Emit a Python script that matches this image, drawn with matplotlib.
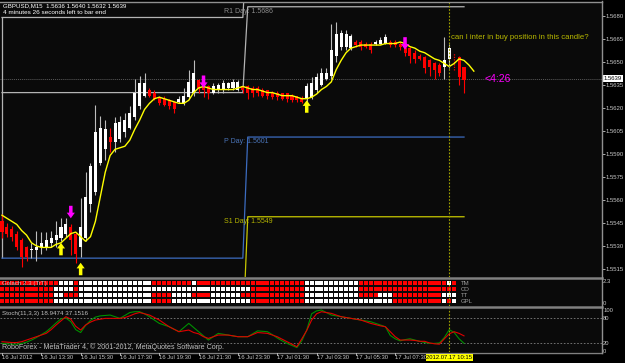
import matplotlib
matplotlib.use('Agg')
import matplotlib.pyplot as plt
import matplotlib.transforms as mtransforms
from matplotlib.lines import Line2D
import numpy as np

# ---------------- data ----------------
opens = [1.5546, 1.5542, 1.5541, 1.5538, 1.5534, 1.5529, 1.5527, 1.5527, 1.5529, 1.5529,
         1.5532, 1.5534, 1.5535, 1.5538, 1.5542, 1.5538, 1.5529, 1.5535, 1.5557, 1.5565,
         1.5584, 1.5593, 1.5601, 1.5598, 1.5600, 1.5604, 1.5607, 1.5614, 1.5621, 1.5628,
         1.5632, 1.5630, 1.5627, 1.5626, 1.5625, 1.5624, 1.5624, 1.5623, 1.5627, 1.5630,
         1.5638, 1.5636, 1.5634, 1.5630, 1.5632, 1.5632, 1.5633, 1.5633, 1.5632, 1.5634,
         1.5634, 1.5633, 1.5633, 1.5632, 1.5632, 1.5630, 1.5630, 1.5630, 1.5630, 1.5628,
         1.5628, 1.5626, 1.5626, 1.5627, 1.5632, 1.5635, 1.5639, 1.5641, 1.5654, 1.5660,
         1.5660, 1.5659, 1.5663, 1.5663, 1.5662, 1.5662, 1.5662, 1.5662, 1.5662, 1.5663,
         1.5663, 1.5662, 1.5659, 1.5659, 1.5656, 1.5654, 1.5653, 1.5651, 1.5649, 1.5648,
         1.5647, 1.5652, 1.5656, 1.5653, 1.5647]
highs = [1.5551, 1.5545, 1.5543, 1.5540, 1.5535, 1.5530, 1.5532, 1.5540, 1.5539, 1.5539,
         1.5540, 1.5546, 1.5548, 1.5548, 1.5544, 1.5539, 1.5561, 1.5578, 1.5584, 1.5622,
         1.5615, 1.5612, 1.5607, 1.5614, 1.5615, 1.5617, 1.5621, 1.5639, 1.5641, 1.5643,
         1.5633, 1.5632, 1.5628, 1.5628, 1.5626, 1.5624, 1.5628, 1.5633, 1.5645, 1.5651,
         1.5639, 1.5638, 1.5635, 1.5636, 1.5636, 1.5638, 1.5637, 1.5639, 1.5638, 1.5634,
         1.5635, 1.5634, 1.5634, 1.5633, 1.5632, 1.5631, 1.5631, 1.5630, 1.5630, 1.5629,
         1.5628, 1.5628, 1.5636, 1.5640, 1.5643, 1.5646, 1.5646, 1.5675, 1.5676, 1.5671,
         1.5671, 1.5668, 1.5664, 1.5664, 1.5663, 1.5663, 1.5664, 1.5666, 1.5668, 1.5664,
         1.5664, 1.5663, 1.5660, 1.5660, 1.5658, 1.5655, 1.5654, 1.5652, 1.5650, 1.5649,
         1.5666, 1.5662, 1.5656, 1.5654, 1.5647]
lows = [1.5535, 1.5536, 1.5533, 1.5527, 1.5516, 1.5520, 1.5522, 1.5520, 1.5525, 1.5527,
        1.5529, 1.5529, 1.5533, 1.5536, 1.5524, 1.5519, 1.5523, 1.5533, 1.5552, 1.5563,
        1.5583, 1.5586, 1.5591, 1.5591, 1.5598, 1.5601, 1.5606, 1.5612, 1.5619, 1.5627,
        1.5627, 1.5625, 1.5622, 1.5621, 1.5619, 1.5617, 1.5623, 1.5622, 1.5626, 1.5628,
        1.5630, 1.5627, 1.5626, 1.5629, 1.5630, 1.5630, 1.5632, 1.5632, 1.5631, 1.5630,
        1.5626, 1.5627, 1.5628, 1.5627, 1.5626, 1.5626, 1.5625, 1.5625, 1.5624, 1.5624,
        1.5624, 1.5623, 1.5623, 1.5626, 1.5630, 1.5634, 1.5638, 1.5639, 1.5650, 1.5658,
        1.5658, 1.5658, 1.5660, 1.5658, 1.5659, 1.5656, 1.5661, 1.5662, 1.5662, 1.5660,
        1.5660, 1.5658, 1.5654, 1.5649, 1.5649, 1.5651, 1.5643, 1.5641, 1.5639, 1.5641,
        1.5639, 1.5646, 1.5645, 1.5635, 1.5630]
closes = [1.5539, 1.5538, 1.5536, 1.5529, 1.5523, 1.5523, 1.5528, 1.5529, 1.5532, 1.5534,
          1.5535, 1.5537, 1.5542, 1.5544, 1.5534, 1.5525, 1.5542, 1.5562, 1.5582, 1.5604,
          1.5607, 1.5606, 1.5598, 1.5610, 1.5611, 1.5612, 1.5617, 1.5630, 1.5636, 1.5636,
          1.5628, 1.5626, 1.5623, 1.5622, 1.5621, 1.5619, 1.5626, 1.5628, 1.5637, 1.5643,
          1.5633, 1.5632, 1.5630, 1.5634, 1.5635, 1.5636, 1.5636, 1.5637, 1.5637, 1.5632,
          1.5630, 1.5630, 1.5630, 1.5628, 1.5628, 1.5627, 1.5627, 1.5626, 1.5626, 1.5625,
          1.5625, 1.5624, 1.5634, 1.5636, 1.5640, 1.5643, 1.5643, 1.5658, 1.5668, 1.5669,
          1.5668, 1.5667, 1.5661, 1.5660, 1.5660, 1.5658, 1.5663, 1.5664, 1.5666, 1.5661,
          1.5661, 1.5660, 1.5656, 1.5654, 1.5652, 1.5652, 1.5646, 1.5647, 1.5645, 1.5643,
          1.5651, 1.5659, 1.5645, 1.5640, 1.5638]
dotted_bars = [92]

ma_values = [1.5550, 1.5548, 1.5546, 1.5544, 1.5540, 1.5537, 1.5532, 1.5530, 1.5529, 1.5529,
             1.5529, 1.5531, 1.5532, 1.5535, 1.5538, 1.5539, 1.5536, 1.5533, 1.5536, 1.5546,
             1.5562, 1.5578, 1.5589, 1.5593, 1.5594, 1.5595, 1.5599, 1.5606, 1.5612, 1.5619,
             1.5623, 1.5626, 1.5627, 1.5626, 1.5625, 1.5624, 1.5623, 1.5623, 1.5625, 1.5630,
             1.5633, 1.5634, 1.5633, 1.5632, 1.5632, 1.5632, 1.5632, 1.5632, 1.5633, 1.5634,
             1.5633, 1.5632, 1.5632, 1.5631, 1.5630, 1.5630, 1.5629, 1.5628, 1.5628, 1.5628,
             1.5627, 1.5626, 1.5626, 1.5627, 1.5629, 1.5632, 1.5634, 1.5637, 1.5645, 1.5651,
             1.5656, 1.5659, 1.5660, 1.5661, 1.5661, 1.5661, 1.5661, 1.5661, 1.5662, 1.5662,
             1.5662, 1.5663, 1.5662, 1.5660, 1.5659, 1.5657, 1.5656, 1.5654, 1.5652, 1.5651,
             1.5649, 1.5647, 1.5649, 1.5652, 1.5651, 1.5648, 1.5644]

# daily pivots: previous day (16 Jul) / current day (17 Jul), the day changes at bar 50
pivot_names = ['R2', 'R1', 'P', 'S1']
pivot_prev = [1.5679, 1.5630, 1.5522, 1.5473]
pivot_today = [1.5738, 1.5686, 1.5601, 1.5549]
pivot_colors = ['#b4b4b4', '#b4b4b4', '#3c6cc0', '#c8c800']
pivot_text_colors = ['#8c8c8c', '#8c8c8c', '#4a74b8', '#b4b400']
day_change_bar = 50
last_bar = 94
pivot_label_bar = 45.2

up_arrow_bars = [12, 16, 62]
up_arrow_prices = [1.5532, 1.5519, 1.5625]
down_arrow_bars = [14, 41, 82]
down_arrow_prices = [1.5548, 1.5633, 1.5658]

bid_price = 1.5639
marked_bar = 91
price_ticks = [1.5515, 1.5530, 1.5545, 1.5560, 1.5575, 1.5590, 1.5605,
               1.5620, 1.5635, 1.5650, 1.5665, 1.5680]

signal_rows = [
    "RRRRRRRRRR RRWWWRWWWW WWWWWWWWWW WRRRRRRRRW RRRRRRRRRR RRRRRRRRRR RRWWWWWWWW WWWRRRRRRR RRRRRRRRRR RWR",
    "RRRRRRRRRR RWWWWRWWWW WWWWWWWWWW WWWWWWWWWW WWWWWWWWWW WRRRRRRRRR RRWWWWWWWW WWWRRRRRRR RRRRRRRRRR RRR",
    "RRRRRRRRRR RWWRRRWWWW WWWWWWWWWW WRRRRWWWWR RRRWWWWWWR RRRRRRRRRR RRWWWWWWWW WWWRRRRWWW RRRRRRRRRR WWW",
    "RRRRRRRRRR RWWWWWWWWW WWWWWWWWWW WRRRRWWWWW WWWWWWWWWW WRRRRRRRRR RRWWWWWWWW WWWWWWWWWW RRRRRRRRRR WRW",
]
signal_labels = ['TM', 'CO', 'TT', 'GPL']

stoch_k = [19, 18, 17, 17, 19, 22, 27, 33, 40, 47, 57, 68, 78, 80, 71, 52, 45, 62, 74, 82,
           85, 86, 87, 83, 79, 86, 93, 95, 95, 90, 83, 75, 67, 63, 59, 53, 47, 57, 67, 57,
           47, 37, 27, 35, 43, 41, 39, 37, 35, 35, 35, 42, 49, 48, 47, 40, 32, 25, 19, 14,
           9, 25, 51, 90, 97, 99, 93, 87, 85, 83, 81, 79, 77, 75, 73, 71, 67, 63, 59, 38,
           30, 25, 28, 30, 27, 24, 21, 19, 19, 20, 33, 52, 45, 30, 19]
stoch_d = [23, 22, 21, 21, 23, 27, 31, 35, 39, 43, 52, 63, 73, 83, 77, 60, 51, 63, 70, 75,
           77, 79, 79, 79, 79, 81, 85, 90, 93, 90, 87, 81, 75, 67, 59, 53, 47, 49, 51, 45,
           42, 35, 31, 35, 39, 39, 39, 37, 35, 35, 35, 40, 45, 44, 43, 39, 35, 29, 23, 17,
           11, 30, 50, 75, 90, 95, 93, 91, 87, 83, 81, 79, 77, 75, 71, 67, 64, 61, 59, 47,
           35, 27, 27, 27, 26, 24, 24, 20, 18, 17, 30, 42, 47, 43, 37]

time_label_bars = [0, 8, 16, 24, 32, 40, 48, 56, 64, 72, 80]
time_labels = ['16 Jul 2012', '16 Jul 13:30', '16 Jul 15:30', '16 Jul 17:30', '16 Jul 19:30',
               '16 Jul 21:30', '16 Jul 23:30', '17 Jul 01:30', '17 Jul 03:30', '17 Jul 05:30',
               '17 Jul 07:30']
marked_time = '2012.07.17 10:15'

# ---------------- layout ----------------
W, H = 625, 363
BG = '#0a0a0a'
FG = '#c8c8c8'
GRID = '#808080'
FONT = ['Liberation Sans Narrow', 'Liberation Sans', 'DejaVu Sans']
plt.rcParams['font.family'] = FONT

fig = plt.figure(figsize=(W / 100, H / 100), dpi=100, facecolor='#000000')


def frect(x0, y0, x1, y1):
    return [x0 / W, 1 - y1 / H, (x1 - x0) / W, (y1 - y0) / H]


ax = fig.add_axes(frect(0, 2, 602, 277))
ax2 = fig.add_axes(frect(0, 279, 602, 306))
ax3 = fig.add_axes(frect(0, 308, 602, 352))

px_per_bar = 4.915
xl = (-2 / px_per_bar, 600 / px_per_bar)
for a in (ax, ax2, ax3):
    a.set_facecolor(BG)
    a.set_xlim(*xl)
    for s in a.spines.values():
        s.set_visible(False)
    a.set_xticks([])
    a.yaxis.tick_right()
    a.tick_params(axis='y', colors=FG, labelsize=4.3, length=2.0, width=0.6, pad=0.8,
                  labelcolor=FG)

# ---------------- main price panel ----------------
o = np.array(opens); h = np.array(highs); l = np.array(lows); c = np.array(closes)
idx = np.arange(len(o))
bull = c >= o
solid = np.array([i not in dotted_bars for i in idx])
ax.vlines(idx[bull & solid], l[bull & solid], h[bull & solid], color='#bdbdbd', lw=0.8, zorder=3)
ax.vlines(idx[~bull & solid], l[~bull & solid], h[~bull & solid], color='#ff0000', lw=0.8, zorder=3)
body_lo = np.minimum(o, c)
body_h = np.maximum(np.abs(c - o), 0.00004)
cols = np.where(bull, '#ffffff', '#ff0000')
ax.bar(idx[solid], body_h[solid], bottom=body_lo[solid], width=0.62,
       color=cols[solid], linewidth=0, zorder=4)
for b in dotted_bars:
    ax.vlines(b, lows[b], highs[b], color='#ff0000', lw=0.9, linestyles=(0, (1, 1)), zorder=3)

ax.plot(np.arange(len(ma_values)), ma_values, color='#ffff00', lw=1.0, zorder=5)

# pivots
ax.vlines(0, pivot_prev[2], pivot_prev[0], color=pivot_colors[0], lw=0.9, zorder=2)
for name, pv, td, lc, tc in zip(pivot_names, pivot_prev, pivot_today, pivot_colors, pivot_text_colors):
    xs = list(range(0, day_change_bar)) + list(range(day_change_bar, last_bar + 1))
    ys = [pv] * day_change_bar + [td] * (last_bar + 1 - day_change_bar)
    ax.plot(xs, ys, color=lc, lw=0.9, zorder=2)
    ax.annotate(f'{name} Day: {td:.4f}', xy=(pivot_label_bar, td), xytext=(0, -3.3),
                textcoords='offset points', ha='left', va='center', fontsize=5.0, color=tc,
                zorder=6, annotation_clip=True)

# bid line
ax.axhline(bid_price, color='#5a5a5a', lw=0.7, ls=(0, (1, 1)), zorder=1)
# marked bar line
for a in (ax, ax2, ax3):
    a.axvline(marked_bar, color='#a0a000', lw=0.8, ls=(0, (1.5, 1.5)), zorder=7)

# arrows
for b, p in zip(up_arrow_bars, up_arrow_prices):
    ax.annotate('', xy=(b, p), xytext=(0, -9), textcoords='offset points',
                arrowprops=dict(arrowstyle='simple,head_length=0.45,head_width=0.65,tail_width=0.28',
                                mutation_scale=9, fc='#ffff00', ec='none', shrinkA=0, shrinkB=0),
                zorder=8)
for b, p in zip(down_arrow_bars, down_arrow_prices):
    ax.annotate('', xy=(b, p), xytext=(0, 9), textcoords='offset points',
                arrowprops=dict(arrowstyle='simple,head_length=0.45,head_width=0.65,tail_width=0.28',
                                mutation_scale=9, fc='#ff00ff', ec='none', shrinkA=0, shrinkB=0),
                zorder=8)

ax.set_ylim(1.55097, 1.56891)
ax.set_yticks(price_ticks)
ax.set_yticklabels([f'{t:.4f}' for t in price_ticks])

ax.text(0.005, 0.988, 'GBPUSD,M15  1.5636 1.5640 1.5632 1.5639', transform=ax.transAxes,
        fontsize=4.4, color='#ffffff', va='center', ha='left', zorder=9)
ax.text(0.005, 0.96, '4 minutes 26 seconds left to bar end', transform=ax.transAxes,
        fontsize=4.6, color='#ffffff', va='center', ha='left', zorder=9)
ax.text(91.35, 1.5666, 'can I inter in buy position in this candle?', fontsize=5.6,
        color='#b8b800', va='center', ha='left', zorder=9)
ax.text(98.1, bid_price, '<4:26', fontsize=7.5, color='#ff00ff', va='center', ha='left', zorder=9)

btrans = mtransforms.blended_transform_factory(ax.transAxes, ax.transData)
ax.text(1.002, bid_price, f'{bid_price:.4f}', transform=btrans, fontsize=4.3, color='#000000',
        va='center', ha='left', zorder=10,
        bbox=dict(boxstyle='square,pad=0.2', fc='#ffffff', ec='none'))

# ---------------- signal squares panel ----------------
for r, row in enumerate(signal_rows):
    row = row.replace(' ', '')
    xs = np.arange(len(row))
    colors = ['#ff0000' if ch == 'R' else '#ffffff' for ch in row]
    ax2.scatter(xs, np.full(len(row), r), marker='s', s=8.5, c=colors, linewidths=0, zorder=3)
    ax2.text(len(row) + 0.4, r, signal_labels[r], fontsize=4.3, color='#a0a0a0', va='center',
             ha='left', zorder=4)
ax2.set_ylim(3.83, -0.67)
ax2.set_yticks([-0.67, 3.83])
ax2.set_yticklabels(['2.3', '0'])
ax2.tick_params(axis='y', length=0)
for lab, va in zip(ax2.get_yticklabels(), ['top', 'bottom']):
    lab.set_va(va)
ax2.text(0.004, 0.82, 'Golach 2.3 (TrT)', transform=ax2.transAxes, fontsize=4.4,
         color='#c0c0c0', va='center', ha='left', zorder=5)

# ---------------- stochastic panel ----------------
ax3.plot(np.arange(len(stoch_k)), stoch_k, color='#009000', lw=0.8, zorder=3)
ax3.plot(np.arange(len(stoch_d)), stoch_d, color='#e00000', lw=0.8, zorder=4)
for lv in (80, 20):
    ax3.axhline(lv, color='#808080', lw=0.6, ls=(0, (2, 2)), zorder=1)
ax3.set_ylim(-1.7, 103.9)
ax3.set_yticks([100, 80, 20, 0])
ax3.set_yticklabels(['100', '80', '20', '0'])
ax3.tick_params(axis='y', length=0, labelsize=4.2)
ax3.text(0.004, 0.88, 'Stoch(11,3,3) 18.9474 37.1516', transform=ax3.transAxes, fontsize=4.5,
         color='#c0c0c0', va='center', ha='left', zorder=5)
ax3.text(0.004, 0.1, 'RoboForex - MetaTrader 4, \u00a9 2001-2012, MetaQuotes Software Corp.',
         transform=ax3.transAxes, fontsize=5.1, color='#c0c0c0', va='center', ha='left', zorder=5)

# ---------------- frame lines ----------------
def hline(y, x0=0, x1=602, color=GRID, lw=1.6):
    fig.add_artist(Line2D([x0 / W, x1 / W], [1 - y / H, 1 - y / H], color=color, lw=lw))

hline(1.5, color='#909090', lw=1.0)
hline(278, lw=1.8)
hline(307, lw=1.8)
hline(352.5, lw=1.0)
fig.add_artist(Line2D([602 / W, 602 / W], [1 - 1 / H, 1 - 353 / H], color='#909090', lw=1.0))

# ---------------- time axis ----------------
for b, t in zip(time_label_bars, time_labels):
    xf = (2 + px_per_bar * b) / W
    fig.text(xf, 1 - 357.5 / H, t, fontsize=4.2, color=FG, va='center', ha='left')
    fig.add_artist(Line2D([xf, xf], [1 - 352.5 / H, 1 - 355 / H], color=FG, lw=0.6))
fig.text((2 + px_per_bar * marked_bar) / W, 1 - 357.5 / H, marked_time, fontsize=4.2,
         color='#000000', va='center', ha='center',
         bbox=dict(boxstyle='square,pad=0.12', fc='#ffff00', ec='none'))

fig.savefig('out.png', dpi=100, facecolor='#000000')
